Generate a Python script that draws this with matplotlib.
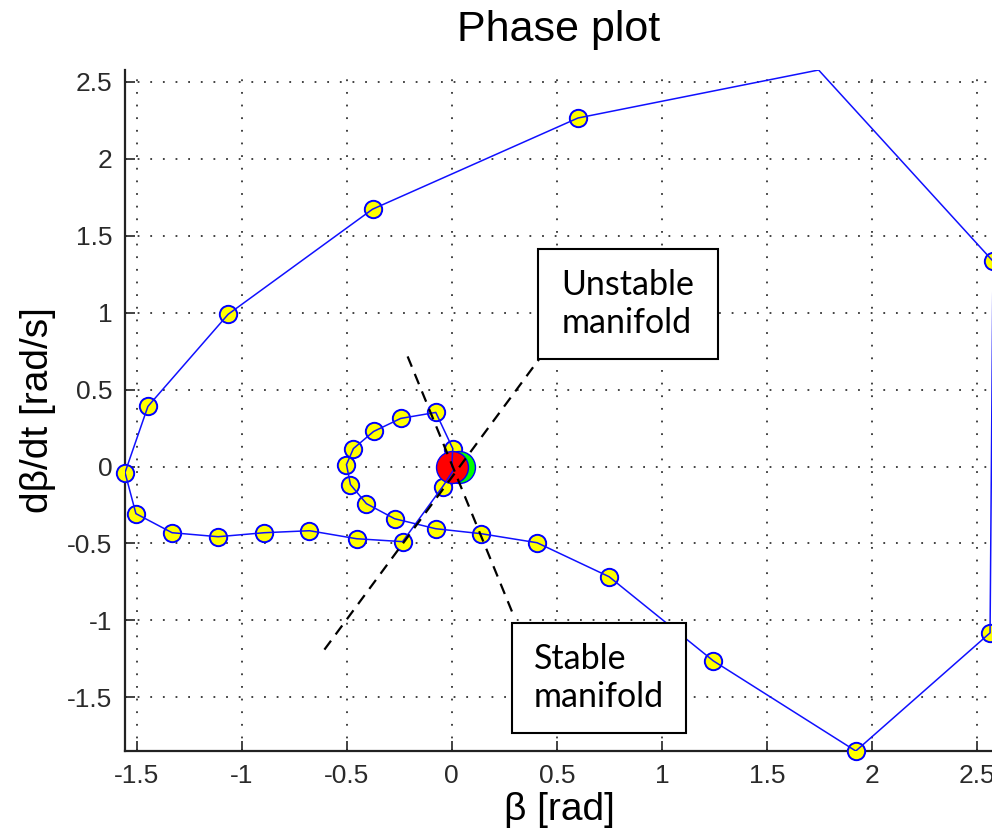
"""
Phase plot of beta vs d(beta)/dt with stable / unstable manifolds
"""
import matplotlib.pyplot as plt
from matplotlib.patches import Rectangle

# trajectory (line vertices)
beta_line = [0.0, 0.005, -0.076, -0.243, -0.372, -0.468, -0.501, -0.482, -0.406,
             -0.272, -0.076, 0.138, 0.406, 0.749, 1.245, 1.923, 2.562, 2.576,
             1.746, 0.601, -0.377, -1.064, -1.446, -1.555, -1.503, -1.331,
             -1.112, -0.892, -0.677, -0.453, -0.234, -0.043, 0.01]
dbeta_line = [0.0, 0.117, 0.352, 0.313, 0.228, 0.117, 0.013, -0.117, -0.241,
              -0.339, -0.404, -0.436, -0.495, -0.716, -1.263, -1.849, -1.081, 1.335,
              2.578, 2.266, 1.673, 0.990, 0.391, -0.039, -0.306, -0.430,
              -0.456, -0.430, -0.417, -0.469, -0.488, -0.130, -0.02]

# sampled states (markers)
beta_pts = [0.005, -0.076, -0.243, -0.372, -0.468, -0.501, -0.482, -0.406,
            -0.272, -0.076, 0.138, 0.406, 0.749, 1.245, 1.923, 2.562, 2.576,
            0.601, -0.377, -1.064, -1.446, -1.555, -1.503, -1.331,
            -1.112, -0.892, -0.677, -0.453, -0.234, -0.043]
dbeta_pts = [0.117, 0.352, 0.313, 0.228, 0.117, 0.013, -0.117, -0.241,
             -0.339, -0.404, -0.436, -0.495, -0.716, -1.263, -1.849, -1.081, 1.335,
             2.266, 1.673, 0.990, 0.391, -0.039, -0.306, -0.430,
             -0.456, -0.430, -0.417, -0.469, -0.488, -0.130]

# equilibrium / end points
start_pt = (0.0, 0.0)
end_pt = (0.035, 0.0)

# manifold directions
stable_x = [-0.21, 0.291]
stable_y = [0.716, -0.957]
unstable_x = [-0.606, 0.415]
unstable_y = [-1.19, 0.697]

W, H = 992, 838
fig = plt.figure(figsize=(W / 100, H / 100), dpi=100)
ax = fig.add_axes([125 / W, 1 - 751 / H, (993 - 125) / W, (751 - 70) / H])

ax.plot(beta_pts, dbeta_pts, 'o', ms=12.5, mfc='#ffff00', mec='#0000ff', mew=1.4,
        ls='none', zorder=3, clip_on=False)
ax.plot(end_pt[0], end_pt[1], 'o', ms=23, mfc='#00ff00', mec='#0000ff', mew=1.0, zorder=4)
ax.plot(start_pt[0], start_pt[1], 'o', ms=23, mfc='#ff0000', mec='#0000ff', mew=1.0, zorder=5)
ax.plot(beta_line, dbeta_line, '-', color='#1010ff', lw=1.1, zorder=6)

dash = (0, (5, 3.5))
ax.plot(stable_x, stable_y, color='black', lw=1.6, ls=dash, zorder=7, clip_on=False)
ax.plot(unstable_x, unstable_y, color='black', lw=1.6, ls=dash, zorder=7, clip_on=False)

ax.set_xlim(min(beta_line), max(beta_line))
ax.set_ylim(min(dbeta_line), max(dbeta_line))
ax.set_xticks([-1.5, -1, -0.5, 0, 0.5, 1, 1.5, 2, 2.5])
ax.set_xticklabels(['-1.5', '-1', '-0.5', '0', '0.5', '1', '1.5', '2', '2.5'])
ax.set_yticks([-1.5, -1, -0.5, 0, 0.5, 1, 1.5, 2, 2.5])
ax.set_yticklabels(['-1.5', '-1', '-0.5', '0', '0.5', '1', '1.5', '2', '2.5'])

ax.grid(True, color='#333333', ls=(0, (1, 6)), lw=1.3)
ax.set_axisbelow(True)
for s in ['top', 'right']:
    ax.spines[s].set_visible(False)
for s in ['left', 'bottom']:
    ax.spines[s].set_linewidth(1.6)
    ax.spines[s].set_color('#222222')
ax.tick_params(direction='in', length=7, width=1.2, pad=9, labelsize=19,
               colors='#222222', labelcolor='#2a2a2a')
for lab in ax.get_xticklabels() + ax.get_yticklabels():
    lab.set_family('Liberation Sans')

ax.set_title('Phase plot', fontsize=31, family='Liberation Sans', pad=21)
ax.set_xlabel('β [rad]', fontsize=28, family='Liberation Sans', labelpad=3)
ax.set_ylabel('dβ/dt [rad/s]', fontsize=28, family='Liberation Sans', labelpad=8)

# text boxes for the manifolds
boxes = [((538, 249, 718, 359), 'Unstable\nmanifold'),
         ((512, 623, 686, 733), 'Stable\nmanifold')]
for (x0, y0, x1, y1), txt in boxes:
    fig.patches.append(Rectangle((x0 / W, 1 - y1 / H), (x1 - x0) / W, (y1 - y0) / H,
                                 transform=fig.transFigure, fc='white', ec='black',
                                 lw=1.5, zorder=10))
    fig.text((x0 + x1) / 2 / W, 1 - (y0 + y1) / 2 / H, txt, ha='center', va='center',
             multialignment='left', fontsize=24.5, family='Lato', linespacing=1.25,
             zorder=11)

plt.savefig('out.png', dpi=100)
plt.close()
